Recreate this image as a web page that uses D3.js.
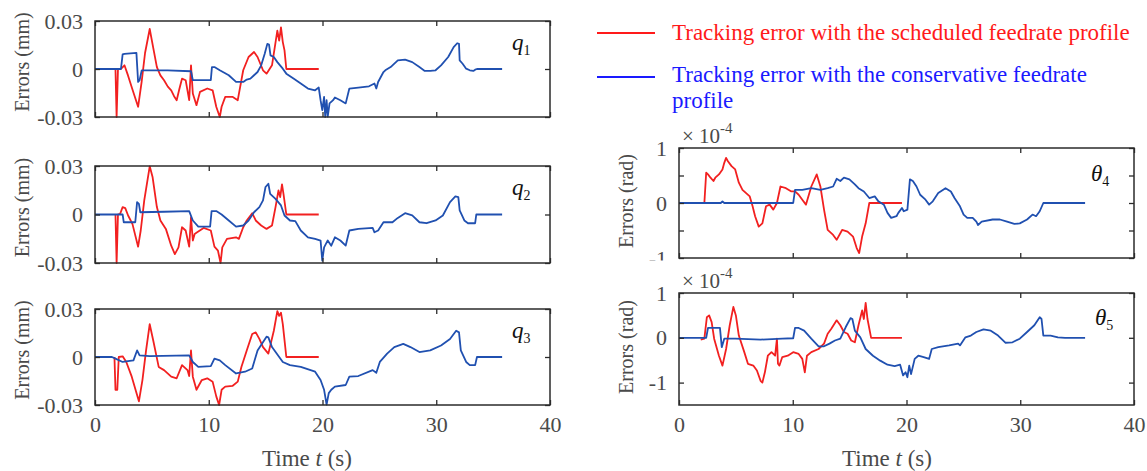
<!DOCTYPE html>
<html>
<head>
<meta charset="utf-8">
<script src="https://cdn.jsdelivr.net/npm/d3@7"></script>
<style>
  body { margin: 0; background: #fff; }
  svg { display: block; font-family: "Liberation Serif", "Times New Roman", serif; }
</style>
</head>
<body>
<svg id="fig" width="1147" height="471"></svg>
<script>
// ---- data: [time (s), tracking error] ----
const timeTicks = [0, 10, 20, 30, 40];
const mmTicks = [-0.03, 0, 0.03];
const theta4Ticks = [-1, -0.5, 0, 0.5, 1];
const theta5Ticks = [-1, 0, 1];

// joint q1 (mm)
const q1Scheduled = [[1.80,0],[1.90,-0.030],[2.02,0],[2.28,0],[2.59,0.0023],[2.9,-0.004],[3.3,-0.013],[3.79,-0.0236],[4.1,-0.008],[4.4,0.010],[4.81,0.0250],[5.1,0.014],[5.44,0.0012],[5.75,-0.004],[6.07,-0.0070],[6.4,-0.011],[6.70,-0.0133],[6.95,-0.017],[7.18,-0.0195],[7.4,-0.013],[7.65,-0.0060],[7.97,-0.0070],[8.28,-0.0195],[8.44,0.0023],[8.60,-0.0153],[8.92,-0.0226],[9.23,-0.0143],[9.87,-0.0122],[10.34,-0.0133],[10.66,-0.0236],[10.97,-0.0300],[11.13,-0.0236],[11.45,-0.0174],[12.08,-0.0174],[12.55,-0.0195],[13.03,-0.0008],[13.50,0.0075],[13.98,0.0106],[14.29,0.0075],[14.77,-0.0008],[15.08,-0.0029],[15.56,0.0023],[16.03,0.0240],[16.19,0.0178],[16.35,0.0260],[16.51,0.0168],[16.66,0.0116],[16.82,0],[19.67,0]];
const q1Conservative = [[0,0],[2.28,0],[2.43,0.0091],[2.59,0.0095],[3.64,0.0101],[3.79,-0.0081],[3.92,-0.0070],[4.11,-0.0008],[6.39,-0.0008],[8.44,-0.0014],[8.60,-0.0070],[10.18,-0.0070],[10.28,0.0012],[10.50,0.0012],[10.97,-0.0008],[11.76,-0.0039],[12.40,-0.0081],[13.03,-0.0081],[13.34,-0.0066],[13.66,-0.0060],[13.98,-0.0039],[14.29,-0.0019],[14.61,0.0023],[14.92,0.0095],[15.15,0.0157],[15.30,0.0153],[15.43,0.0085],[15.72,0.0075],[16.03,0.0043],[16.51,0.0002],[16.82,-0.0029],[17.45,-0.0060],[18.09,-0.0091],[18.72,-0.0122],[19.35,-0.0133],[19.67,-0.0116],[19.83,-0.0195],[19.98,-0.0257],[20.14,-0.0174],[20.24,-0.0300],[20.36,-0.0195],[20.46,-0.0298],[20.62,-0.0215],[20.93,-0.0195],[21.09,-0.0178],[21.57,-0.0195],[22.04,-0.0215],[22.36,-0.0122],[23.15,-0.0116],[24.09,-0.0108],[24.57,-0.0091],[24.73,-0.0122],[24.89,-0.0081],[25.36,-0.0019],[25.52,-0.0008],[25.99,0.0012],[26.62,0.0054],[27.26,0.0058],[27.89,0.0043],[28.52,0.0012],[28.99,-0.0012],[29.47,-0.0012],[29.94,-0.0008],[30.42,0.0023],[31.05,0.0075],[31.53,0.0137],[31.84,0.0161],[32.00,0.0157],[32.06,0.0054],[32.32,0.0033],[32.63,0.0002],[32.95,-0.0008],[33.26,-0.0012],[33.42,-0.0004],[33.58,0],[35.79,0]];

// joint q2 (mm)
const q2Scheduled = [[1.80,0],[1.90,-0.030],[2.02,0],[2.21,0.0004],[2.43,0.0046],[2.66,0.0039],[2.91,-0.0006],[3.29,-0.0058],[3.79,-0.0199],[4.02,-0.0099],[4.33,0.0087],[4.81,0.0298],[5.06,0.0232],[5.44,0.0046],[5.75,-0.0037],[6.23,-0.0089],[6.70,-0.0193],[7.02,-0.0245],[7.34,-0.0203],[7.65,-0.0079],[7.97,-0.0099],[8.28,-0.0199],[8.44,-0.0017],[8.60,-0.0161],[8.76,-0.0120],[8.98,-0.0110],[9.55,-0.0083],[10.18,-0.0099],[10.50,-0.0199],[10.81,-0.0224],[11.04,-0.0300],[11.19,-0.0203],[11.60,-0.0151],[12.40,-0.0141],[12.65,-0.0151],[13.03,-0.0079],[13.34,-0.0037],[13.82,0.0008],[14.13,-0.0037],[14.61,-0.0068],[15.08,-0.0089],[15.56,-0.0068],[15.87,0.0046],[16.13,0.0149],[16.28,0.0108],[16.44,0.0186],[16.57,0.0128],[16.82,0],[19.67,0]];
const q2Conservative = [[0,0],[2.43,0],[2.53,-0.0048],[3.54,-0.0048],[3.70,0.0077],[3.86,0.0066],[3.98,0.0014],[6.07,0.0017],[8.28,0.0021],[8.60,-0.0037],[9.08,-0.0075],[10.12,-0.0075],[10.25,0.0021],[10.66,0.0021],[11.13,0],[11.76,-0.0037],[12.40,-0.0075],[13.03,-0.0068],[13.50,-0.0037],[13.98,0.0014],[14.45,0.0046],[14.77,0.0087],[14.99,0.0170],[15.24,0.0190],[15.40,0.0128],[15.87,0.0097],[16.35,0.0056],[16.66,-0.0006],[17.14,-0.0037],[17.61,-0.0041],[18.09,-0.0099],[18.72,-0.0141],[19.35,-0.0151],[19.83,-0.0161],[19.98,-0.0286],[20.14,-0.0203],[20.30,-0.0182],[20.46,-0.0161],[20.77,-0.0193],[21.09,-0.0141],[21.57,-0.0161],[22.04,-0.0192],[22.36,-0.0099],[23.15,-0.0089],[24.41,-0.0083],[24.57,-0.0110],[24.89,-0.0099],[25.36,-0.0048],[26.15,-0.0048],[26.62,-0.0021],[27.26,0.0008],[27.89,-0.0006],[28.52,-0.0048],[29.15,-0.0054],[29.94,-0.0037],[30.58,-0.0006],[31.21,0.0077],[31.68,0.0112],[31.94,0.0108],[32.06,0.0025],[32.47,-0.0037],[32.79,-0.0054],[33.42,-0.0054],[33.52,0],[35.79,0]];

// joint q3 (mm)
const q3Scheduled = [[1.71,0],[1.80,-0.0205],[1.96,-0.0205],[2.09,0],[2.43,0.0004],[2.75,-0.0031],[3.23,-0.0123],[3.86,-0.0277],[4.17,-0.0144],[4.49,0.0041],[4.81,0.0205],[5.12,0.0103],[5.60,-0.0062],[6.07,-0.0082],[6.70,-0.0123],[7.18,-0.0133],[7.65,-0.0051],[8.13,-0.0082],[8.28,-0.0119],[8.44,0.0041],[8.60,-0.0123],[8.92,-0.0205],[9.39,-0.0144],[9.87,-0.0133],[10.34,-0.0154],[10.66,-0.0246],[10.91,-0.0300],[11.13,-0.0205],[11.45,-0.0185],[12.08,-0.0181],[12.55,-0.0154],[12.87,-0.0062],[13.34,0.0041],[13.82,0.0144],[14.13,0.0154],[14.45,0.0113],[14.77,0.0062],[15.24,0.0021],[15.72,0.0164],[16.03,0.0287],[16.19,0.0257],[16.35,0.0277],[16.51,0.0205],[16.82,0],[19.67,0]];
const q3Conservative = [[0,0],[1.49,0],[1.80,-0.0010],[2.43,-0.0031],[3.38,-0.0021],[3.70,0.0041],[3.92,0.0010],[4.81,0.0006],[8.28,0.0010],[8.60,-0.0031],[9.08,-0.0062],[10.18,-0.0057],[10.50,-0.0010],[10.97,-0.0021],[11.45,-0.0051],[12.40,-0.0103],[13.19,-0.0092],[13.82,-0.0072],[14.29,0.0041],[15.08,0.0127],[15.24,0.0123],[15.56,0.0062],[16.51,-0.0031],[17.14,-0.0051],[18.09,-0.0062],[19.35,-0.0092],[19.83,-0.0144],[20.14,-0.0205],[20.36,-0.0298],[20.55,-0.0226],[20.77,-0.0205],[21.09,-0.0185],[22.04,-0.0175],[22.36,-0.0123],[23.15,-0.0119],[24.41,-0.0082],[24.73,-0.0099],[25.04,-0.0031],[25.68,0.0021],[26.31,0.0062],[27.10,0.0082],[27.73,0.0062],[28.52,0.0031],[29.47,0.0041],[30.42,0.0072],[31.21,0.0113],[31.75,0.0164],[32.00,0.0154],[32.16,0.0041],[32.63,-0.0031],[32.95,-0.0051],[33.42,-0.0051],[33.58,0],[35.79,0]];

// joint theta4 (x 1e-4 rad)
const t4Scheduled = [[1.91,0],[2.23,0],[2.39,0.55],[2.55,0.52],[2.77,0.46],[3.03,0.40],[3.19,0.46],[3.51,0.52],[3.82,0.61],[3.98,0.73],[4.14,0.82],[4.30,0.76],[4.62,0.67],[4.94,0.61],[5.26,0.37],[5.58,0.24],[5.90,0.18],[6.22,0.12],[6.47,-0.06],[6.69,-0.24],[7.01,-0.43],[7.33,-0.37],[7.65,-0.06],[7.97,-0.03],[8.29,-0.12],[8.61,0],[8.92,0.30],[9.40,0.27],[9.88,0.21],[10.20,0.21],[10.52,0.15],[10.84,0.06],[11.16,-0.03],[11.63,0.30],[12.11,0.52],[12.43,0.30],[12.75,-0.12],[13.07,-0.49],[13.55,-0.58],[13.86,-0.67],[14.34,-0.49],[14.82,-0.52],[15.30,-0.61],[15.62,-0.82],[15.84,-0.91],[16.10,-0.61],[16.41,-0.37],[16.73,0],[19.60,0]];
const t4Conservative = [[0,0],[3.67,0],[3.82,0.03],[3.98,0],[10.04,0],[10.20,0.24],[10.84,0.24],[11.63,0.27],[12.43,0.24],[13.07,0.27],[13.55,0.30],[13.86,0.44],[14.18,0.40],[14.50,0.46],[14.98,0.43],[15.46,0.34],[15.78,0.27],[16.25,0.21],[16.73,0.09],[17.21,0.12],[17.53,0.03],[18.01,-0.03],[18.33,-0.18],[18.65,-0.27],[19.12,-0.24],[19.28,-0.18],[19.60,-0.09],[19.76,-0.15],[20.08,-0.12],[20.30,0.43],[20.56,0.40],[20.88,0.30],[21.20,0.15],[21.67,0.06],[21.99,-0.03],[22.31,0.03],[22.79,0.18],[23.43,0.27],[23.90,0.21],[24.22,0.09],[24.70,-0.06],[25.02,-0.21],[25.34,-0.27],[25.82,-0.27],[26.14,-0.34],[26.29,-0.40],[26.61,-0.34],[27.57,-0.30],[28.21,-0.30],[28.84,-0.34],[29.48,-0.38],[29.96,-0.37],[30.60,-0.30],[31.08,-0.21],[31.39,-0.24],[31.71,-0.15],[32.03,0],[32.67,0],[35.70,0]];

// joint theta5 (x 1e-4 rad)
const t5Scheduled = [[1.91,-0.04],[2.23,-0.02],[2.45,0.46],[2.65,0.50],[2.87,0.35],[3.09,-0.02],[3.51,-0.40],[3.82,-0.62],[4.14,-0.25],[4.46,0.28],[4.78,0.69],[5.00,0.50],[5.26,0.05],[5.74,-0.32],[6.06,-0.58],[6.53,-0.62],[6.85,-0.73],[7.17,-0.96],[7.33,-1.00],[7.55,-0.77],[7.81,-0.40],[8.13,-0.32],[8.45,-0.40],[8.61,-0.02],[8.70,-0.58],[8.83,-0.62],[9.08,-0.43],[9.56,-0.40],[10.04,-0.32],[10.52,-0.36],[10.84,-0.47],[11.06,-0.77],[11.25,-0.40],[11.63,-0.32],[12.27,-0.25],[12.75,-0.13],[13.07,0.09],[13.39,0.20],[13.86,0.39],[14.18,0.28],[14.50,0.13],[14.82,0.09],[15.14,-0.06],[15.46,-0.10],[15.78,0.28],[16.10,0.61],[16.25,0.42],[16.41,0.78],[16.57,0.42],[16.89,0],[19.60,0]];
const t5Conservative = [[0,0],[2.39,0],[2.55,0.22],[3.60,0.22],[3.76,-0.21],[3.98,-0.02],[4.94,-0.02],[7.17,-0.04],[9.08,-0.02],[10.04,-0.01],[10.20,0.22],[10.52,0.22],[11.00,0.16],[11.63,-0.02],[12.27,-0.19],[12.75,-0.19],[13.23,-0.13],[13.71,-0.06],[14.18,-0.02],[14.66,0.24],[15.08,0.44],[15.24,0.42],[15.46,0.16],[15.94,0.01],[16.41,-0.25],[17.05,-0.40],[17.69,-0.51],[18.33,-0.60],[18.96,-0.63],[19.44,-0.60],[19.70,-0.84],[19.92,-0.77],[20.08,-0.88],[20.24,-0.62],[20.40,-0.81],[20.72,-0.47],[21.04,-0.40],[21.51,-0.43],[21.99,-0.47],[22.22,-0.25],[22.79,-0.21],[23.75,-0.17],[24.54,-0.13],[24.70,-0.17],[25.18,0.01],[25.66,0.05],[26.14,0.13],[26.77,0.19],[27.41,0.16],[28.05,0.05],[28.69,-0.11],[29.32,-0.10],[29.96,-0.02],[30.60,0.13],[31.24,0.28],[31.71,0.46],[31.87,0.42],[32.03,0.05],[32.67,0.05],[33.31,0.01],[33.94,0],[35.70,0]];

const legendLabels = [
  "Tracking error with the scheduled feedrate profile",
  "Tracking error with the conservative feedrate",
  "profile"
];

// ---- styling ----
const SERIF = '"Liberation Serif", "Times New Roman", serif';
const RED = "#f22020", BLUE = "#2050b0";
const LEG_RED = "#ff1a1a", LEG_BLUE = "#1a1aff";
const AXIS = "#2b2b2b", TEXT = "#4a4a4a";

const svg = d3.select("#fig");

const fmtMM = d => d === 0 ? "0" : (d < 0 ? "-" : "") + Math.abs(d).toFixed(2);
const fmtRad = d => Number.isInteger(d) ? (d < 0 ? "-" + Math.abs(d) : String(d)) : "";

const panels = [
  { sched: q1Scheduled, cons: q1Conservative, x: [95, 550], y: [21, 117], dom: [-0.03, 0.03], yt: mmTicks, fmt: fmtMM, lab: "q", sub: "1", lx: 512, ly: 50, unit: "Errors (mm)", tx: 22, ty: -7, xLabels: false },
  { sched: q2Scheduled, cons: q2Conservative, x: [95, 550], y: [166, 263], dom: [-0.03, 0.03], yt: mmTicks, fmt: fmtMM, lab: "q", sub: "2", lx: 512, ly: 195, unit: "Errors (mm)", tx: 22, ty: -7, xLabels: false },
  { sched: q3Scheduled, cons: q3Conservative, x: [95, 550], y: [309, 405], dom: [-0.03, 0.03], yt: mmTicks, fmt: fmtMM, lab: "q", sub: "3", lx: 512, ly: 338, unit: "Errors (mm)", tx: 22, ty: -7, xLabels: true, titleX: 307 },
  { sched: t4Scheduled, cons: t4Conservative, x: [679, 1134], y: [148, 258], dom: [-1, 1], yt: theta4Ticks, fmt: fmtRad, lab: "\u03B8", sub: "4", lx: 1091, ly: 181, unit: "Errors (rad)", tx: 626, ty: -2, xLabels: false, exp: true, cutBelow: 260.5 },
  { sched: t5Scheduled, cons: t5Conservative, x: [679, 1134], y: [293, 405], dom: [-1.5, 1], yt: theta5Ticks, fmt: fmtRad, lab: "\u03B8", sub: "5", lx: 1095, ly: 325, unit: "Errors (rad)", tx: 626, ty: -2, xLabels: true, exp: true, titleX: 887 }
];

panels.forEach((p, i) => {
  const x = d3.scaleLinear().domain([0, 40]).range(p.x);
  const y = d3.scaleLinear().domain(p.dom).range([p.y[1], p.y[0]]);
  const g = svg.append("g");

  const clipId = "clip" + i;
  svg.append("clipPath").attr("id", clipId)
    .append("rect").attr("x", p.x[0]).attr("y", p.y[0] - 1)
    .attr("width", p.x[1] - p.x[0]).attr("height", p.y[1] - p.y[0] + 2);

  const line = d3.line().x(d => x(d[0])).y(d => y(d[1]));
  const plot = g.append("g").attr("clip-path", `url(#${clipId})`);
  plot.append("path").datum(p.sched).attr("d", line)
    .attr("fill", "none").attr("stroke", RED).attr("stroke-width", 1.8).attr("stroke-linejoin", "round");
  plot.append("path").datum(p.cons).attr("d", line)
    .attr("fill", "none").attr("stroke", BLUE).attr("stroke-width", 1.8).attr("stroke-linejoin", "round");

  // axes with inward ticks, mirrored on all four sides
  const bottom = g.append("g").attr("transform", `translate(0,${p.y[1]})`)
    .call(d3.axisBottom(x).tickValues(timeTicks).tickSize(-5).tickPadding(11)
      .tickFormat(p.xLabels ? d3.format("d") : () => ""));
  const top = g.append("g").attr("transform", `translate(0,${p.y[0]})`)
    .call(d3.axisTop(x).tickValues(timeTicks).tickSize(-5).tickFormat(() => ""));
  const left = g.append("g").attr("transform", `translate(${p.x[0]},0)`)
    .call(d3.axisLeft(y).tickValues(p.yt).tickSize(-5).tickPadding(12).tickFormat(p.fmt));
  const right = g.append("g").attr("transform", `translate(${p.x[1]},0)`)
    .call(d3.axisRight(y).tickValues(p.yt).tickSize(-5).tickFormat(() => ""));

  [bottom, top, left, right].forEach(a => {
    a.attr("font-family", SERIF);
    a.select(".domain").remove();
    a.selectAll("line").attr("stroke", AXIS).attr("stroke-width", 1.3);
    a.selectAll("text").attr("fill", TEXT).style("font-size", "22px").style("font-family", SERIF);
  });

  // the lowest tick label of this axis is cut off just under the frame
  if (p.cutBelow) {
    g.append("rect").attr("x", p.x[0] - 45).attr("y", p.cutBelow)
      .attr("width", 42).attr("height", 14).attr("fill", "#fff");
  }

  g.append("rect").attr("x", p.x[0]).attr("y", p.y[0])
    .attr("width", p.x[1] - p.x[0]).attr("height", p.y[1] - p.y[0])
    .attr("fill", "none").attr("stroke", AXIS).attr("stroke-width", 1.5);

  // panel label
  const lab = g.append("text").attr("x", p.lx).attr("y", p.ly).attr("fill", "#111")
    .style("font-size", "23px").style("font-family", SERIF);
  lab.append("tspan").style("font-style", "italic").text(p.lab);
  lab.append("tspan").attr("dy", 5).style("font-size", "14px").text(p.sub);

  // y-axis title
  g.append("text")
    .attr("transform", `translate(${p.tx},${(p.y[0] + p.y[1]) / 2 + p.ty}) rotate(-90)`)
    .attr("text-anchor", "middle").attr("dy", "0.35em")
    .attr("fill", TEXT).style("font-size", "20px").style("font-family", SERIF).text(p.unit);

  // exponent marker
  if (p.exp) {
    const e = g.append("text").attr("x", p.x[0] + 3).attr("y", p.y[0] - 5)
      .attr("fill", TEXT).style("font-size", "21px").style("font-family", SERIF);
    e.append("tspan").text("\u00D7 10");
    e.append("tspan").attr("dy", -10).style("font-size", "15px").text("-4");
  }

  // x-axis title
  if (p.xLabels) {
    const t = g.append("text").attr("x", p.titleX).attr("y", 466)
      .attr("text-anchor", "middle").attr("fill", TEXT)
      .style("font-size", "23px").style("font-family", SERIF);
    t.append("tspan").text("Time ");
    t.append("tspan").style("font-style", "italic").text("t");
    t.append("tspan").text(" (s)");
  }
});

// legend
const leg = svg.append("g").style("font-family", SERIF);
leg.append("line").attr("x1", 597).attr("x2", 655).attr("y1", 33).attr("y2", 33)
  .attr("stroke", LEG_RED).attr("stroke-width", 2);
leg.append("line").attr("x1", 597).attr("x2", 655).attr("y1", 77).attr("y2", 77)
  .attr("stroke", LEG_BLUE).attr("stroke-width", 2);
leg.append("text").attr("x", 672).attr("y", 40).attr("fill", LEG_RED)
  .style("font-size", "23px").text(legendLabels[0]);
leg.append("text").attr("x", 672).attr("y", 82).attr("fill", LEG_BLUE)
  .style("font-size", "23px").text(legendLabels[1]);
leg.append("text").attr("x", 672).attr("y", 108).attr("fill", LEG_BLUE)
  .style("font-size", "23px").text(legendLabels[2]);
</script>
</body>
</html>
